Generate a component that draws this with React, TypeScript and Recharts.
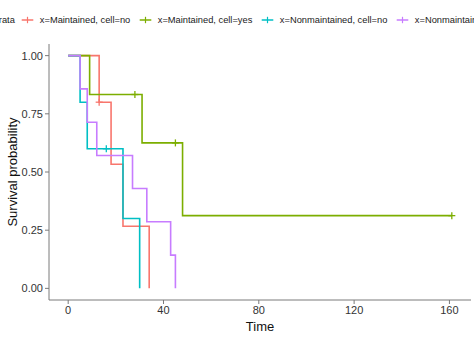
import React from "react";
import { ComposedChart, Line, Scatter, XAxis, YAxis } from "recharts";

// strata labels and ggplot hue colours
const strataNames = [
  "x=Maintained, cell=no",
  "x=Maintained, cell=yes",
  "x=Nonmaintained, cell=no",
  "x=Nonmaintained, cell=yes",
];
const strataColors = ["#F8766D", "#7CAE00", "#00BFC4", "#C77CFF"];

// Kaplan-Meier steps: time t, survival s
const maintNoSteps = [
  { t: 0, s: 1 },
  { t: 13, s: 0.8 },
  { t: 18, s: 0.533 },
  { t: 23, s: 0.267 },
  { t: 34, s: 0 },
];
const maintYesSteps = [
  { t: 0, s: 1 },
  { t: 9, s: 0.833 },
  { t: 31, s: 0.625 },
  { t: 48, s: 0.3125 },
  { t: 161, s: 0.3125 },
];
const nonNoSteps = [
  { t: 0, s: 1 },
  { t: 5, s: 0.8 },
  { t: 8, s: 0.6 },
  { t: 23, s: 0.3 },
  { t: 30, s: 0 },
];
const nonYesSteps = [
  { t: 0, s: 1 },
  { t: 5, s: 0.857 },
  { t: 8, s: 0.714 },
  { t: 12, s: 0.571 },
  { t: 27, s: 0.429 },
  { t: 33, s: 0.286 },
  { t: 43, s: 0.143 },
  { t: 45, s: 0 },
];

// censored observations (+ marks)
const maintNoCensored = [{ t: 13, s: 0.8 }];
const maintYesCensored = [
  { t: 28, s: 0.833 },
  { t: 45, s: 0.625 },
  { t: 161, s: 0.3125 },
];
const nonNoCensored = [{ t: 16, s: 0.6 }];
const nonYesCensored: { t: number; s: number }[] = [];

const xTicks = [0, 40, 80, 120, 160];
const yTicks = [0, 0.25, 0.5, 0.75, 1];

const steps = [maintNoSteps, maintYesSteps, nonNoSteps, nonYesSteps];
const censored = [maintNoCensored, maintYesCensored, nonNoCensored, nonYesCensored];

const FONT = "'Liberation Sans', Arial, sans-serif";
const AXIS = "#7a7a7a";

const crossShape = (color: string) => (props: any) => {
  const { cx, cy } = props;
  if (cx == null || cy == null) return <g />;
  return (
    <g stroke={color} strokeWidth={1.3}>
      <line x1={cx - 3.5} x2={cx + 3.5} y1={cy} y2={cy} />
      <line x1={cx} x2={cx} y1={cy - 3.5} y2={cy + 3.5} />
    </g>
  );
};

const LegendKey = ({ color }: { color: string }) => (
  <svg width={17} height={10} style={{ display: "block" }}>
    <line x1={2.7} x2={14.3} y1={5} y2={5} stroke={color} strokeWidth={1.5} />
    <line x1={8.5} x2={8.5} y1={1.8} y2={8.2} stroke={color} strokeWidth={1.2} />
  </svg>
);

const App: React.FC = () => {
  return (
    <div
      style={{
        position: "absolute",
        left: 0,
        top: 0,
        width: 474,
        height: 338,
        overflow: "hidden",
        background: "#fff",
        fontFamily: FONT,
      }}
    >
      <div
        style={{
          position: "absolute",
          top: 14,
          left: -10,
          height: 12,
          display: "flex",
          alignItems: "center",
          whiteSpace: "nowrap",
          fontSize: 9.3,
          color: "#1a1a1a",
        }}
      >
        <span style={{ marginRight: 4 }}>Strata</span>
        {strataNames.map((name, i) => (
          <div key={name} style={{ display: "flex", alignItems: "center", marginRight: 6.5 }}>
            <LegendKey color={strataColors[i]} />
            <span style={{ marginLeft: 4 }}>{name}</span>
          </div>
        ))}
      </div>
      <ComposedChart
        width={474}
        height={338}
        margin={{ top: 44, right: 3, bottom: 0, left: 0 }}
      >
        <XAxis
          type="number"
          dataKey="t"
          domain={[-8.05, 169.05]}
          ticks={xTicks}
          allowDataOverflow
          height={38}
          tickSize={4}
          tickMargin={2}
          stroke={AXIS}
          tick={{ fontSize: 11, fill: "#333", fontFamily: FONT }}
          label={{
            value: "Time",
            position: "insideBottom",
            offset: 7,
            fontSize: 13,
            fill: "#111",
            fontFamily: FONT,
          }}
        />
        <YAxis
          type="number"
          dataKey="s"
          domain={[-0.05, 1.05]}
          ticks={yTicks}
          allowDataOverflow
          width={49}
          tickSize={4}
          tickMargin={2}
          stroke={AXIS}
          tickFormatter={(v: number) => v.toFixed(2)}
          tick={{ fontSize: 11, fill: "#333", fontFamily: FONT }}
          label={{
            content: (p: any) => {
              const vb = p.viewBox || { x: 0, y: 44, width: 49, height: 256 };
              const x = vb.x + 12.5;
              const y = vb.y + vb.height / 2;
              return (
                <text
                  x={x}
                  y={y}
                  transform={`rotate(-90 ${x} ${y})`}
                  textAnchor="middle"
                  dominantBaseline="central"
                  fontSize={13}
                  fill="#111"
                  fontFamily={FONT}
                >
                  Survival probability
                </text>
              );
            },
          }}
        />
        {steps.map((d, i) => (
          <Line
            key={strataNames[i]}
            data={d}
            dataKey="s"
            type="stepAfter"
            stroke={strataColors[i]}
            strokeWidth={1.6}
            dot={false}
            activeDot={false}
            isAnimationActive={false}
          />
        ))}
        {censored.map((d, i) =>
          d.length ? (
            <Scatter
              key={"c" + strataNames[i]}
              data={d}
              dataKey="s"
              shape={crossShape(strataColors[i])}
              isAnimationActive={false}
            />
          ) : null
        )}
      </ComposedChart>
    </div>
  );
};

export default App;
